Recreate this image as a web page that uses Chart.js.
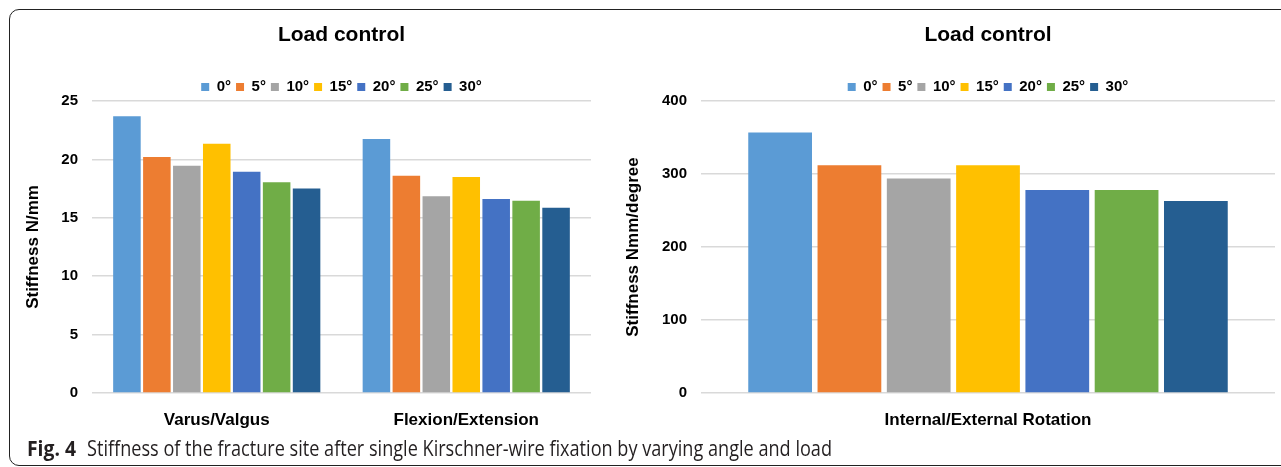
<!DOCTYPE html>
<html>
<head>
<meta charset="utf-8">
<script src="https://cdn.jsdelivr.net/npm/chart.js@4.4.1/dist/chart.umd.min.js"></script>
<style>
  html, body { margin: 0; padding: 0; background: #fff; }
  body { width: 1281px; height: 467px; position: relative; overflow: hidden; }
  #frame { position: absolute; left: 9px; top: 9px; width: 1320px; height: 457px;
           border: 1.5px solid #222; border-radius: 10px; box-sizing: border-box; }
  #c1 { position: absolute; left: 0; top: 0; }
  #c2 { position: absolute; left: 600px; top: 0; }
  .cap { position: absolute; top: 436px; font-family: "Open Sans", "Noto Sans", sans-serif;
         font-size: 21px; line-height: 24px; color: #231f20; white-space: nowrap;
         transform-origin: 0 0; display: inline-block; }
  #capA { left: 27px; font-weight: 700; }
  #capB { left: 87px; font-weight: 400; }
</style>
</head>
<body>
<div id="frame"></div>
<canvas id="c1" width="600" height="440"></canvas>
<canvas id="c2" width="681" height="440"></canvas>
<span class="cap" id="capA">Fig. 4</span>
<span class="cap" id="capB">Stiffness of the fracture site after single Kirschner-wire fixation by varying angle and load</span>
<script>
// ---- data ----
const angles = ['0°', '5°', '10°', '15°', '20°', '25°', '30°'];
const angleColors = ['#5B9BD5', '#ED7D31', '#A5A5A5', '#FFC000', '#4472C4', '#70AD47', '#255E91'];
const leftCategories = ['Varus/Valgus', 'Flexion/Extension'];
const varusValgus = [23.7, 20.2, 19.45, 21.35, 18.95, 18.05, 17.5];
const flexionExtension = [21.75, 18.6, 16.85, 18.5, 16.6, 16.45, 15.85];
const rightCategories = ['Internal/External Rotation'];
const rotation = [357, 312, 294, 312, 278, 278, 263];
const leftTitle = 'Load control';
const rightTitle = 'Load control';
const leftYTitle = 'Stiffness N/mm';
const rightYTitle = 'Stiffness Nmm/degree';

// ---- caption fitting ----
function fitSpan(id, target) {
  const el = document.getElementById(id);
  const w = el.getBoundingClientRect().width;
  el.style.transform = 'scaleX(' + (target / w) + ')';
}
fitSpan('capA', 49);
fitSpan('capB', 745);

const FONT = "'Liberation Sans', Arial, sans-serif";
Chart.defaults.font.family = FONT;
Chart.defaults.color = '#000';

function makeChart(canvasId, categories, datasets, yMax, yStep, yTitle, title, yWidth, yTitlePad, padRight, catPct) {
  return new Chart(document.getElementById(canvasId), {
    type: 'bar',
    data: { labels: categories, datasets: datasets },
    options: {
      responsive: false,
      animation: false,
      layout: { padding: { left: 0, right: padRight, top: 0, bottom: 10 } },
      datasets: { bar: { categoryPercentage: catPct, barPercentage: 0.92, borderWidth: 0 } },
      plugins: {
        title: {
          display: true, text: title, fullSize: false,
          font: { size: 21, weight: 'bold', family: FONT }, color: '#000',
          padding: { top: 22.4, bottom: 26.9 }
        },
        legend: {
          display: true, position: 'top', fullSize: false, maxHeight: 26.5,
          labels: {
            boxWidth: 8, boxHeight: 8, padding: 5,
            font: { size: 15, weight: 'bold', family: FONT }, color: '#000'
          }
        },
        tooltip: { enabled: false }
      },
      scales: {
        x: {
          grid: { display: false, drawTicks: false },
          border: { display: false },
          ticks: { padding: 17, font: { size: 17, weight: 'bold', family: FONT }, color: '#000' },
          afterFit: s => { s.height = 37; }
        },
        y: {
          min: 0, max: yMax,
          grid: { color: '#d9d9d9', lineWidth: 1.5, drawTicks: false },
          border: { display: false },
          ticks: { stepSize: yStep, padding: 14, font: { size: 15, weight: 'bold', family: FONT }, color: '#000' },
          title: {
            display: true, text: yTitle,
            font: { size: 17, weight: 'bold', family: FONT }, color: '#000',
            padding: { top: yTitlePad, bottom: 0 }
          },
          afterFit: s => { s.width = yWidth; }
        }
      }
    }
  });
}

const leftDatasets = angles.map((a, i) => ({
  label: a,
  data: [varusValgus[i], flexionExtension[i]],
  backgroundColor: angleColors[i],
  borderColor: angleColors[i]
}));
const rightDatasets = angles.map((a, i) => ({
  label: a,
  data: [rotation[i]],
  backgroundColor: angleColors[i],
  borderColor: angleColors[i]
}));

makeChart('c1', leftCategories, leftDatasets, 25, 5, leftYTitle, leftTitle, 92, 22.8, 9, 0.84);
makeChart('c2', rightCategories, rightDatasets, 400, 100, rightYTitle, rightTitle, 101, 23.6, 6, 0.845);
</script>
</body>
</html>
